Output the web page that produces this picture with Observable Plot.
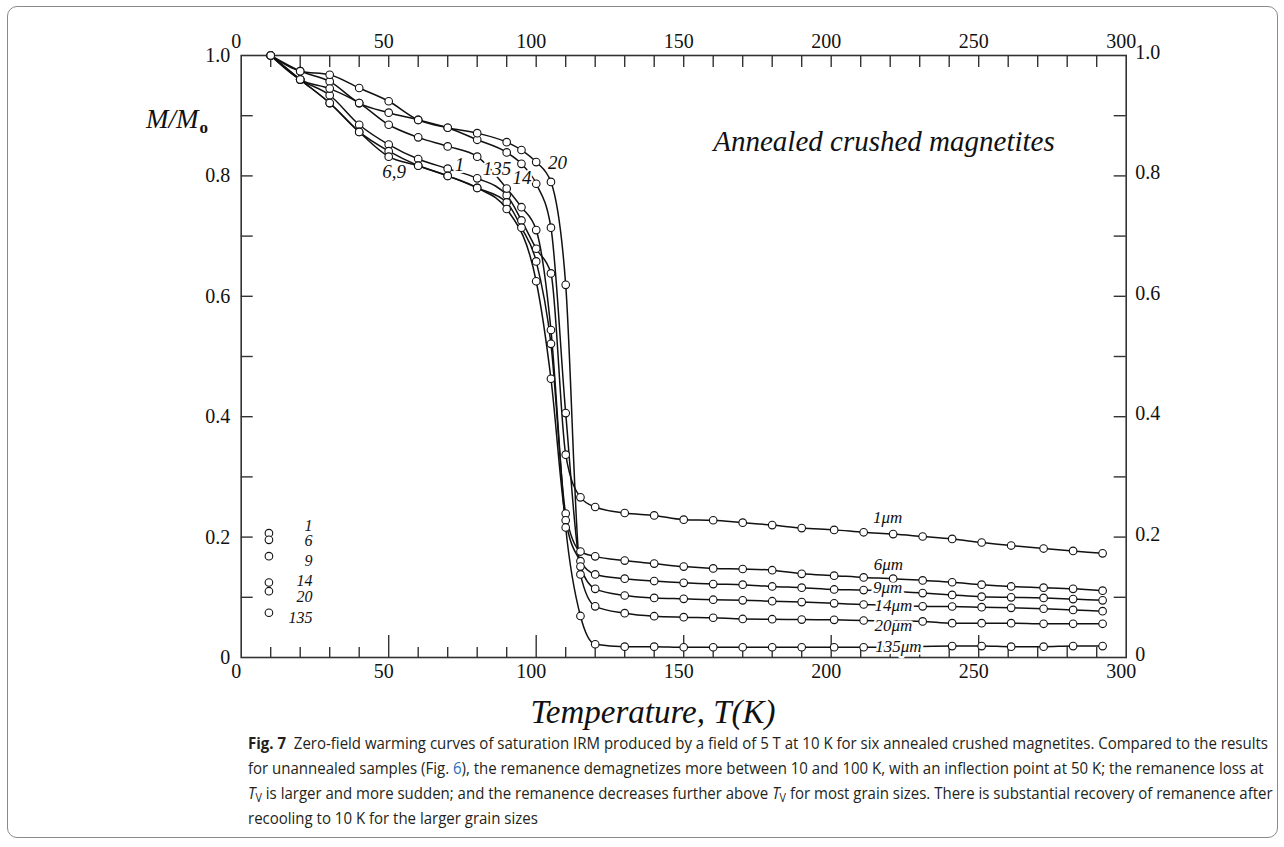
<!DOCTYPE html>
<html>
<head>
<meta charset="utf-8">
<script src="https://cdn.jsdelivr.net/npm/d3@7"></script>
<script src="https://cdn.jsdelivr.net/npm/@observablehq/plot@0.6"></script>
<style>
  html, body { margin:0; padding:0; background:#fff; }
  body { width:1284px; height:847px; position:relative; overflow:hidden; }
  #box { position:absolute; left:7px; top:6px; width:1271px; height:832px; border:1px solid #8a8a8a; border-radius:10px; box-sizing:border-box; }
  #chart { position:absolute; left:0; top:0; }
  #ylab { position:absolute; left:146px; top:104px; font:italic 27px "Liberation Serif", serif; color:#111; white-space:nowrap; }
  #ylab .o { font-style:normal; font-size:17px; font-weight:bold; position:relative; top:5px; margin-left:1px; }
  #xlab { position:absolute; left:0; width:1306px; top:690px; text-align:center; font:italic 33px "Liberation Serif", serif; color:#111; white-space:nowrap; line-height:44px; }
  #caption { position:absolute; left:248px; top:730px; font:16.5px "Open Sans", sans-serif; color:#231f20; transform-origin:0 0; }
  #caption .cl { white-space:nowrap; height:25px; line-height:25px; }
  #caption .cl span.m { display:inline-block; }
  #caption sub { font-size:0.72em; vertical-align:-0.25em; line-height:0; }
  #caption .lnk { color:#2a6ebb; }
</style>
</head>
<body>
<div id="box"></div>
<div id="chart"></div>
<div id="ylab">M/M<span class="o">o</span></div>
<div id="xlab">Temperature, T(K)</div>
<div id="caption">
  <div class="cl"><span class="m" id="firstLine"><b>Fig. 7</b>&nbsp; Zero-field warming curves of saturation IRM produced by a field of 5 T at 10 K for six annealed crushed magnetites. Compared to the results</span></div>
  <div class="cl"><span class="m">for unannealed samples (Fig. <span class="lnk">6</span>), the remanence demagnetizes more between 10 and 100 K, with an inflection point at 50 K; the remanence loss at</span></div>
  <div class="cl"><span class="m"><i>T</i><sub>V</sub> is larger and more sudden; and the remanence decreases further above <i>T</i><sub>V</sub> for most grain sizes. There is substantial recovery of remanence after</span></div>
  <div class="cl"><span class="m">recooling to 10 K for the larger grain sizes</span></div>
</div>
<script>
// ---------------- data ----------------
const grainSizes = ["1", "6", "9", "14", "20", "135"];
const temperatures = [10, 20, 30, 40, 50, 60, 70, 80, 90, 95, 100, 105, 110, 115, 120,
  130, 140, 150, 160, 170, 180, 190, 201, 211, 221, 231, 241, 251, 261, 272, 282, 292];
const m1   = [1.0, 0.960, 0.934, 0.885, 0.852, 0.828, 0.812, 0.796, 0.768, 0.726, 0.679, 0.638, 0.337, 0.266, 0.250,
  0.240, 0.236, 0.229, 0.228, 0.224, 0.220, 0.215, 0.212, 0.208, 0.205, 0.201, 0.197, 0.191, 0.186, 0.181, 0.177, 0.173];
const m6   = [1.0, 0.960, 0.921, 0.873, 0.841, 0.817, 0.800, 0.780, 0.756, 0.714, 0.658, 0.521, 0.239, 0.176, 0.168,
  0.161, 0.156, 0.151, 0.148, 0.147, 0.145, 0.139, 0.136, 0.133, 0.131, 0.128, 0.125, 0.121, 0.118, 0.116, 0.114, 0.111];
const m9   = [1.0, 0.960, 0.921, 0.873, 0.832, 0.817, 0.800, 0.780, 0.745, null, 0.625, 0.463, 0.228, 0.160, 0.138,
  0.131, 0.127, 0.124, 0.122, 0.121, 0.118, 0.116, 0.113, 0.112, null, 0.107, 0.104, 0.101, 0.100, 0.099, 0.097, 0.095];
const m14  = [1.0, 0.974, 0.957, 0.921, 0.905, 0.893, 0.880, 0.860, 0.839, 0.820, 0.787, 0.714, 0.406, 0.151, 0.114,
  0.103, 0.099, 0.0975, 0.096, 0.095, 0.0935, 0.092, 0.090, 0.088, null, 0.085, 0.0847, 0.0836, 0.0825, 0.081, 0.079, 0.077];
const m20  = [1.0, 0.974, 0.968, 0.946, 0.924, 0.893, 0.880, 0.871, 0.856, 0.843, 0.823, 0.790, 0.619, 0.138, 0.085,
  0.0736, 0.0686, 0.067, 0.066, 0.064, 0.0636, 0.063, 0.0626, 0.0615, null, 0.060, 0.057, 0.057, 0.057, 0.056, 0.056, 0.056];
const m135 = [1.0, 0.960, 0.945, 0.921, 0.885, 0.864, 0.849, 0.832, 0.779, 0.748, 0.710, 0.544, 0.216, 0.069, 0.022,
  0.018, 0.018, 0.017, 0.017, 0.017, 0.017, 0.017, 0.017, 0.017, null, null, 0.019, 0.019, 0.018, 0.018, 0.019, 0.019];

const xTickValues = [0, 50, 100, 150, 200, 250, 300];
const xTickLabels = ["0", "50", "100", "150", "200", "250", "300"];
const yTickValues = [0, 0.2, 0.4, 0.6, 0.8, 1.0];
const yTickLabels = ["0", "0.2", "0.4", "0.6", "0.8", "1.0"];

// annotations (text and anchor positions in data units)
const innerLabels = ["20", "14", "135", "1", "6,9"];
const innerLabelT = [107.2, 95.2, 86.7, 74.0, 51.8];
const innerLabelM = [0.822, 0.796, 0.812, 0.819, 0.806];
const endLabels = ["1\u03bcm", "6\u03bcm", "9\u03bcm", "14\u03bcm", "20\u03bcm", "135\u03bcm"];
const endLabelT = [219.1, 219.4, 219.1, 221.1, 221.1, 222.8];
const endLabelM = [0.2326, 0.1545, 0.1165, 0.086, 0.053, 0.018];
const legendLabels = ["1", "6", "9", "14", "20", "135"];
const legendDotT = 9.4;
const legendDotM = [0.2065, 0.1955, 0.1683, 0.1246, 0.1101, 0.0743];
const legendTextT = 24.2;
const legendTextM = [0.219, 0.1935, 0.161, 0.128, 0.101, 0.066];
const titleText = "Annealed crushed magnetites";
const titleT = 217.9, titleM = 0.857;

// ---------------- build ----------------
const seriesValues = [m1, m6, m9, m14, m20, m135];
const rows = grainSizes.flatMap((s, k) =>
  temperatures.map((t, i) => ({size: s, T: t, M: seriesValues[k][i]})).filter(d => d.M != null));

const pxPerK = 885 / 300, pxPerM = 602;
const tickTop = 12 / pxPerM, tickBotMinor = 10 / pxPerM, tickBotMajor = 22 / pxPerM, tickSide = 12 / pxPerK;
const minorX = d3.range(10, 300, 10);
const minorY = d3.range(1, 10).map(i => i / 10);

const serif = '"Liberation Serif", "Times New Roman", serif';
const idx = (arr) => arr.map((_, i) => i);
const xFmt = (d) => xTickLabels[xTickValues.indexOf(d)];
const yFmt = (d) => yTickLabels[yTickValues.findIndex(v => Math.abs(v - d) < 1e-9)];

const plot = Plot.plot({
  width: 1284, height: 700,
  marginLeft: 240.7, marginRight: 158.3, marginTop: 55, marginBottom: 43,
  x: {domain: [0, 300]},
  y: {domain: [0, 1]},
  style: {fontFamily: serif, fontSize: "20px", color: "#111", background: "transparent", overflow: "visible"},
  marks: [
    // ticks (inward)
    Plot.ruleX(minorX, {x: d => d, y1: 1, y2: 1 - tickTop, stroke: "#333", strokeWidth: 1.4}),
    Plot.ruleX(minorX, {x: d => d, y1: 0, y2: d => (d % 50 === 0 ? tickBotMajor : tickBotMinor), stroke: "#333", strokeWidth: 1.4}),
    Plot.ruleY(minorY, {y: d => d, x1: 0, x2: tickSide, stroke: "#333", strokeWidth: 1.4}),
    Plot.ruleY(minorY, {y: d => d, x1: 300, x2: 300 - tickSide, stroke: "#333", strokeWidth: 1.4}),
    Plot.frame({stroke: "#333", strokeWidth: 1.6}),
    // axis labels
    Plot.axisX({anchor: "top", ticks: xTickValues, tickSize: 0, tickPadding: 8, dx: -5, tickFormat: xFmt, label: null}),
    Plot.axisX({anchor: "bottom", ticks: xTickValues, tickSize: 0, tickPadding: 6, dx: -5, tickFormat: xFmt, label: null}),
    Plot.axisY({anchor: "left", ticks: yTickValues, tickSize: 0, tickPadding: 11, tickFormat: yFmt, label: null}),
    Plot.axisY({anchor: "right", ticks: yTickValues, tickSize: 0, tickPadding: 9, dy: -3, tickFormat: yFmt, label: null}),
    // curves
    Plot.line(rows, {x: "T", y: "M", z: "size", curve: "monotone-x", stroke: "#111", strokeWidth: 1.5}),
    Plot.dot(rows, {x: "T", y: "M", r: 3.8, fill: "white", stroke: "#111", strokeWidth: 1.1}),
    // inner labels
    Plot.text(idx(innerLabels), {x: i => innerLabelT[i], y: i => innerLabelM[i], text: i => innerLabels[i],
      fontSize: 19, fontStyle: "italic", fontFamily: serif, fill: "#111", stroke: "white", strokeWidth: 4}),
    // end labels
    Plot.text(idx(endLabels), {x: i => endLabelT[i], y: i => endLabelM[i], text: i => endLabels[i],
      fontSize: 17, fontStyle: "italic", fontFamily: serif, fill: "#111", stroke: "white", strokeWidth: 5}),
    // legend
    Plot.dot(legendDotM, {x: () => legendDotT, y: d => d, r: 3.8, fill: "white", stroke: "#111", strokeWidth: 1.1}),
    Plot.text(idx(legendLabels), {x: () => legendTextT, y: i => legendTextM[i], text: i => legendLabels[i],
      textAnchor: "end", fontSize: 16, fontStyle: "italic", fontFamily: serif, fill: "#111"}),
    // title
    Plot.text([titleText], {x: () => titleT, y: () => titleM, text: d => d, fontSize: 29, fontStyle: "italic", fontFamily: serif, fill: "#111"})
  ]
});
document.getElementById("chart").appendChild(plot);

// fit caption width like the reference
const first = document.getElementById("firstLine");
const w = first.getBoundingClientRect().width;
const s = 1020 / w;
document.getElementById("caption").style.transform = `scaleX(${s})`;
</script>
</body>
</html>
